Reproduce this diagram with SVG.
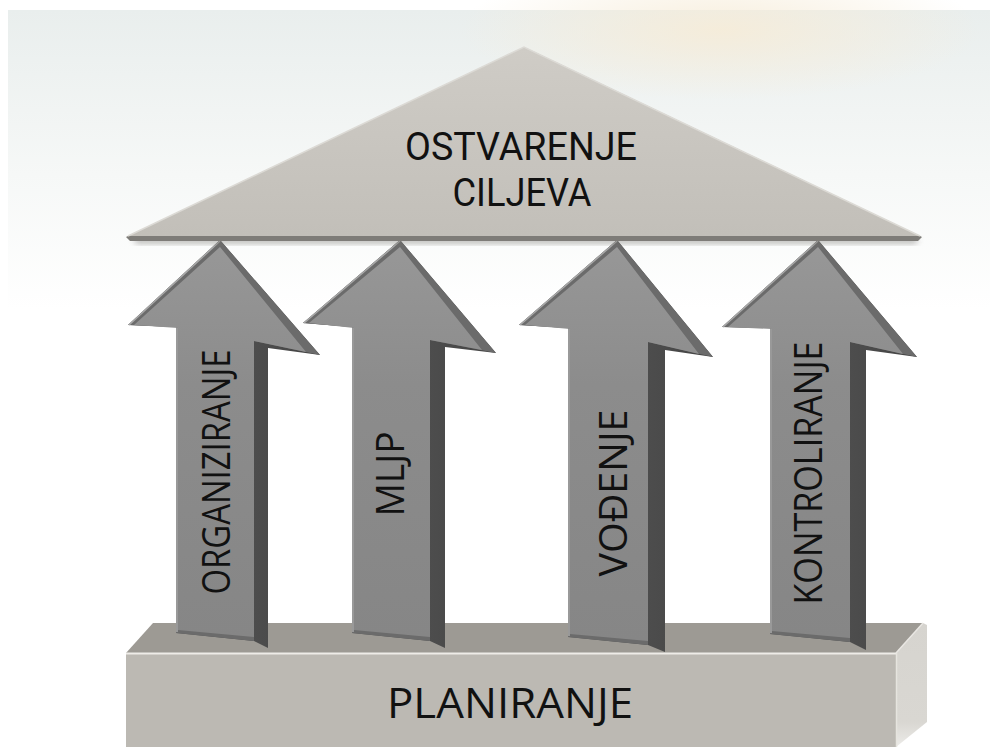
<svg xmlns="http://www.w3.org/2000/svg" width="990" height="747" viewBox="0 0 990 747">
  <defs>
    <linearGradient id="bgV" x1="0" y1="0" x2="0" y2="1">
      <stop offset="0" stop-color="#e9eeed"/>
      <stop offset="0.55" stop-color="#f6f8f7"/>
      <stop offset="1" stop-color="#ffffff"/>
    </linearGradient>
    <radialGradient id="bgWarm" cx="0.5" cy="0.5" r="0.5">
      <stop offset="0" stop-color="#f6ecd8" stop-opacity="0.9"/>
      <stop offset="1" stop-color="#f6ecd8" stop-opacity="0"/>
    </radialGradient>
    <linearGradient id="roofG" x1="0" y1="0" x2="0" y2="1">
      <stop offset="0" stop-color="#cfccc6"/>
      <stop offset="1" stop-color="#c2bfb9"/>
    </linearGradient>
    <linearGradient id="frontG" x1="0" y1="0" x2="0" y2="1">
      <stop offset="0" stop-color="#979797"/>
      <stop offset="0.35" stop-color="#8c8c8c"/>
      <stop offset="1" stop-color="#868686"/>
    </linearGradient>
    <linearGradient id="sideG" x1="0" y1="0" x2="1" y2="0">
      <stop offset="0" stop-color="#5e5e5e"/>
      <stop offset="1" stop-color="#444444"/>
    </linearGradient>
    <linearGradient id="rightFace" x1="0" y1="0" x2="0" y2="1">
      <stop offset="0" stop-color="#d6d4cf"/>
      <stop offset="0.8" stop-color="#d9d7d2"/>
      <stop offset="1" stop-color="#ecebe8"/>
    </linearGradient>
    <filter id="shadow" x="-10%" y="-50%" width="120%" height="200%">
      <feGaussianBlur stdDeviation="3"/>
    </filter>
    <style>
      .txt { font-family: "Open Sans", "Noto Sans", "DejaVu Sans", sans-serif; fill: #111111; }
      .txt2 { font-family: Roboto, "Liberation Sans", sans-serif; fill: #111111; }
      .sil { fill: url(#sideG); }
      .bev { fill: #6b6b6b; }
      .front { fill: url(#frontG); }
      .hl { fill: none; stroke: #a9a9a9; stroke-width: 1.5; }
    </style>
  </defs>

  <!-- background -->
  <rect x="0" y="0" width="990" height="747" fill="#ffffff"/>
  <rect x="8" y="10" width="982" height="300" fill="url(#bgV)"/>
  <ellipse cx="720" cy="30" rx="260" ry="70" fill="url(#bgWarm)"/>

  <!-- base -->
  <g id="planiranje">
    <polygon points="153,623 923,623 896,653 126,653" fill="#9d9a94"/>
    <rect x="126" y="653" width="770" height="94" fill="#bcb9b3"/>
    <polygon points="896,653 923,623 927,625 927,722 896,747" fill="url(#rightFace)"/>
    <line x1="126" y1="653.5" x2="896" y2="653.5" stroke="#eeece8" stroke-width="2"/>
    <line x1="896.5" y1="653" x2="896.5" y2="747" stroke="#e6e4df" stroke-width="1.5"/>
    <line x1="896" y1="653" x2="923" y2="623" stroke="#e8e6e2" stroke-width="1.5"/>
    <text class="txt" x="510" y="718" font-size="42" text-anchor="middle" textLength="246" lengthAdjust="spacingAndGlyphs">PLANIRANJE</text>
  </g>

  <!-- arrows -->
  <g id="organiziranje">
    <polygon class="sil" points="220,240 320,355 268,348 268,648 254,641 176,633 176,327 128,325"/>
    <polygon class="bev" points="220,240 320,355 254,341 254,641 176,633 176,327 128,325"/>
    <polygon class="front" points="220,247 306,352 254,341 254,637 178,630 178,328 134,325"/>
    <polyline class="hl" points="129,325 220,241"/>
    <polyline class="hl" points="177,328 177,632"/>
    <text class="txt" transform="translate(230,472) rotate(-90)" x="0" y="0" font-size="38" text-anchor="middle" textLength="245" lengthAdjust="spacingAndGlyphs">ORGANIZIRANJE</text>
  </g>
  <g id="mljp">
    <polygon class="sil" points="400,240 496,353 445,347 445,648 430,641 352,633 352,327 303,323"/>
    <polygon class="bev" points="400,240 496,353 430,340 430,641 352,633 352,327 303,323"/>
    <polygon class="front" points="400,247 482,350 430,340 430,637 354,630 354,328 309,323"/>
    <polyline class="hl" points="304,323 400,241"/>
    <polyline class="hl" points="353,328 353,632"/>
    <text class="txt" transform="translate(404,474) rotate(-90)" x="0" y="0" font-size="38" text-anchor="middle" textLength="85" lengthAdjust="spacingAndGlyphs">MLJP</text>
  </g>
  <g id="vodenje">
    <polygon class="sil" points="617,240 713,357 665,350 665,652 648,645 568,637 568,328 519,325"/>
    <polygon class="bev" points="617,240 713,357 648,342 648,645 568,637 568,328 519,325"/>
    <polygon class="front" points="617,247 699,354 648,342 648,641 570,634 570,329 525,325"/>
    <polyline class="hl" points="520,325 617,241"/>
    <polyline class="hl" points="569,329 569,636"/>
    <text class="txt" transform="translate(627,493) rotate(-90)" x="0" y="0" font-size="38" text-anchor="middle" textLength="167" lengthAdjust="spacingAndGlyphs">VOĐENJE</text>
  </g>
  <g id="kontroliranje">
    <polygon class="sil" points="818,240 917,357 866,350 866,650 850,642 770,634 770,328 722,327"/>
    <polygon class="bev" points="818,240 917,357 850,342 850,642 770,634 770,328 722,327"/>
    <polygon class="front" points="818,247 903,354 850,342 850,638 772,631 772,329 728,327"/>
    <polyline class="hl" points="723,327 818,241"/>
    <polyline class="hl" points="771,329 771,633"/>
    <text class="txt" transform="translate(822,473) rotate(-90)" x="0" y="0" font-size="38" text-anchor="middle" textLength="263" lengthAdjust="spacingAndGlyphs">KONTROLIRANJE</text>
  </g>

  <!-- roof -->
  <g id="ostvarenje-ciljeva">
    <rect x="135" y="238" width="782" height="5" fill="#6f6d69" opacity="0.6" filter="url(#shadow)"/>
    <polygon points="524,47 922,237 918,241 130,241 126,237" fill="#7e7c78"/>
    <polygon points="524,47 920,236 128,236" fill="url(#roofG)"/>
    <polyline points="128,236 524,47 920,236" fill="none" stroke="#dcdad5" stroke-width="1.5"/>
    <text class="txt2" x="521" y="160" font-size="38" text-anchor="middle" textLength="232" lengthAdjust="spacingAndGlyphs">OSTVARENJE</text>
    <text class="txt2" x="522" y="206" font-size="38" text-anchor="middle" textLength="139" lengthAdjust="spacingAndGlyphs">CILJEVA</text>
  </g>

  <g id="connectors"></g>
</svg>
